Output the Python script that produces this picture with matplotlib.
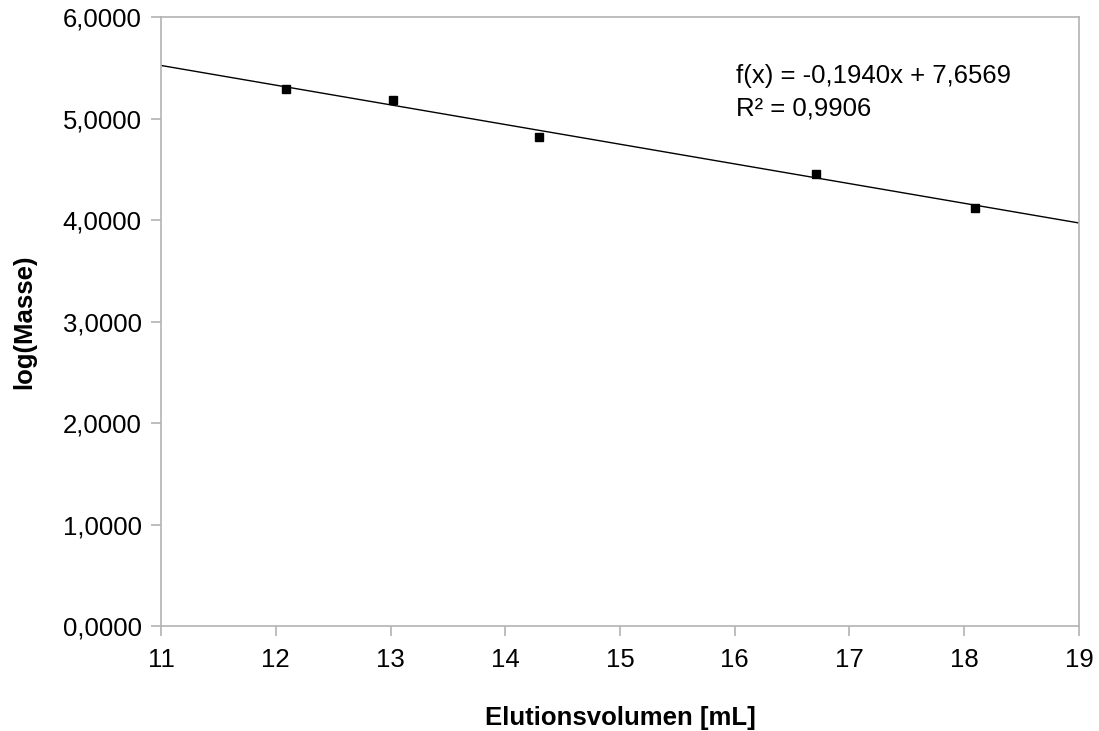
import matplotlib.pyplot as plt
import numpy as np
from matplotlib.ticker import FuncFormatter

# Messwerte: Elutionsvolumen und log(Masse)
elution_ml = [12.09, 13.02, 14.29, 16.71, 18.09]
log_masse = [5.293, 5.179, 4.818, 4.451, 4.117]

# Trendlinie (wie im Diagramm angegeben)
slope = -0.1940
intercept = 7.6569
r_squared = 0.9906

x_range = [11, 19]
y_range = [0, 6]

plt.rcParams['font.family'] = ['Liberation Sans', 'DejaVu Sans']
fs = 18.5

fig = plt.figure(figsize=(10.99, 7.31), dpi=100)
ax = fig.add_axes([0.1465, 0.1436, 0.8353, 0.8331])

grey = '#b3b3b3'

# Trendlinie über den ganzen x-Bereich
xl = np.array(x_range, dtype=float)
ax.plot(xl, slope * xl + intercept, color='black', lw=1.0, zorder=2)

ax.plot(elution_ml, log_masse, ls='none', marker='s', ms=6,
        color='black', zorder=3)

ax.set_xlim(*x_range)
ax.set_ylim(*y_range)
ax.set_xticks(np.arange(11, 20, 1))
ax.set_yticks(np.arange(0, 7, 1))
ax.yaxis.set_major_formatter(FuncFormatter(lambda v, p: "{:.4f}".format(v).replace('.', ',')))

for s in ax.spines.values():
    s.set_color(grey)
    s.set_linewidth(1.2)
ax.tick_params(axis='both', direction='out', length=7, width=1.2, color=grey,
               labelsize=fs, labelcolor='black')
ax.tick_params(axis='x', pad=9)
ax.tick_params(axis='y', pad=7)

ax.set_xlabel("Elutionsvolumen [mL]", fontsize=fs, fontweight='bold', labelpad=24)
ax.set_ylabel("log(Masse)", fontsize=fs, fontweight='bold', labelpad=19)

eq = "f(x) = {:.4f}x + {:.4f}".format(slope, intercept).replace('.', ',')
r2 = "R² = {:.4f}".format(r_squared).replace('.', ',')
ax.text(16.01, 5.42, eq, fontsize=fs, va='center', ha='left')
ax.text(16.01, 5.10, r2, fontsize=fs, va='center', ha='left')

fig.savefig("out.png", dpi=100)
